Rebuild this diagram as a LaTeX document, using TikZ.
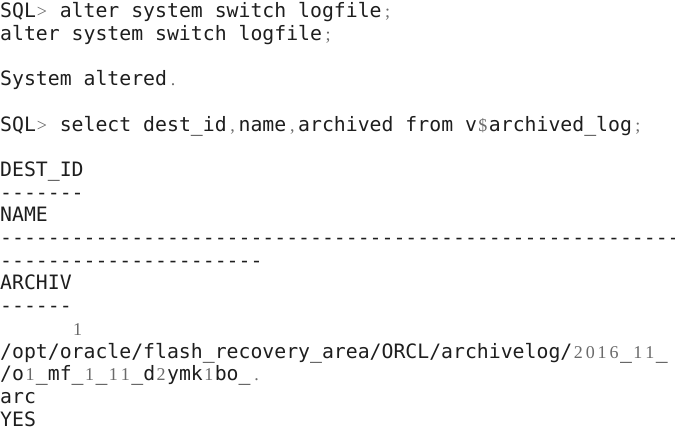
\documentclass[tikz,border=0pt]{standalone}
\usepackage{fontspec}
\setmonofont{DejaVu Sans Mono}
\newfontfamily\fbfont{Liberation Serif}
\usepackage{xcolor}
\usetikzlibrary{positioning}
\definecolor{termtext}{HTML}{1E1E1E}
\definecolor{fbgray}{HTML}{6A6A6A}
% glyphs drawn by the fallback font, one cell wide
\newcommand{\fb}[1]{\makebox[0.6021em][c]{\fbfont\fontsize{18bp}{18bp}\selectfont\color{fbgray}#1}}

\begin{document}
\begin{tikzpicture}[x=1bp,y=-1bp,
	termline/.style={anchor=base west,inner sep=0pt,text=termtext,
		font=\ttfamily\fontsize{19.8bp}{22.7bp}\selectfont}]
		\useasboundingbox[fill=white] (0,0) rectangle (675,432);
		\node[termline] (prompt1) at (0,17.5) {SQL\fb{>} alter system switch logfile\fb{;}};
		\node[termline] (echo1) at (0,40.2) {alter system switch logfile\fb{;}};
		\node[termline] (status) at (0,85.6) {System altered\fb{.}};
		\node[termline] (prompt2) at (0,131.0) {SQL\fb{>} select dest\_id\fb{,}name\fb{,}archived from v\fb{\$}archived\_log\fb{;}};
		\node[termline] (hdrdest) at (0,176.4) {DEST\_ID};
		\node[termline] (ruledest) at (0,199.1) {-------};
		\node[termline] (hdrname) at (0,221.8) {NAME};
		\node[termline] (rulename) at (0,244.5) {---------------------------------------------------------};
		\node[termline] (rulename2) at (0,267.2) {----------------------};
		\node[termline] (hdrarch) at (0,289.9) {ARCHIV};
		\node[termline] (rulearch) at (0,312.6) {------};
		\node[termline] (valdest) at (0,335.3) {\hspace*{3.6126em}\fb{1}};
		\node[termline] (valname) at (0,358.0) {/opt/oracle/flash\_recovery\_area/ORCL/archivelog/\fb{2}\fb{0}\fb{1}\fb{6}\_\fb{1}\fb{1}\_};
		\node[termline] (valname2) at (0,380.7) {/o\fb{1}\_mf\_\fb{1}\_\fb{1}\fb{1}\_d\fb{2}ymk\fb{1}bo\_\fb{.}};
		\node[termline] (valname3) at (0,403.4) {arc};
		\node[termline] (valarch) at (0,426.1) {YES};
\end{tikzpicture}
\end{document}
